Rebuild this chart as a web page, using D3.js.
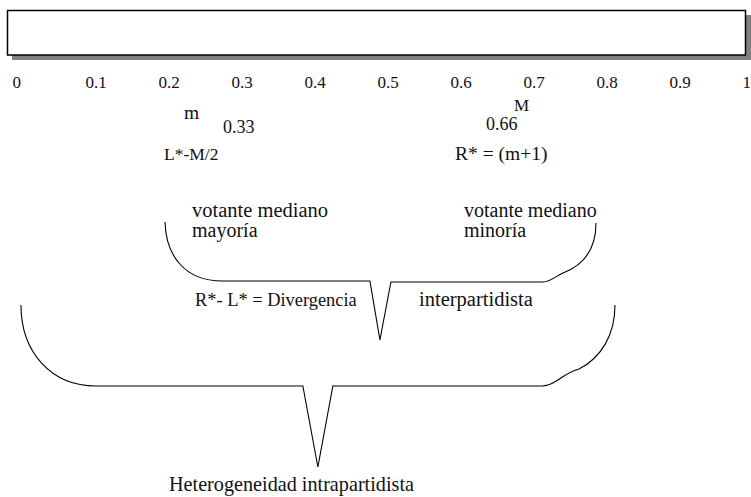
<!DOCTYPE html>
<html>
<head>
<meta charset="utf-8">
<script src="https://cdn.jsdelivr.net/npm/d3@7/dist/d3.min.js"></script>
<style>
  html, body { margin: 0; padding: 0; background: #fff; }
  svg { display: block; }
  text { font-family: "Liberation Serif", "Times New Roman", serif; fill: #111; }
</style>
</head>
<body>
<svg id="chart" width="751" height="497"></svg>
<script>
// ---- data ----
const tickValues = [0, 0.1, 0.2, 0.3, 0.4, 0.5, 0.6, 0.7, 0.8, 0.9, 1];
const tickLabels = ["0", "0.1", "0.2", "0.3", "0.4", "0.5", "0.6", "0.7", "0.8", "0.9", "1"];
const leftMedian = 0.33;   // L*
const rightMedian = 0.66;  // R*
const leftSymbol = "m";
const rightSymbol = "M";
const leftFormula = "L*-M/2";
const rightFormula = "R* = (m+1)";
const upperBraceText = ["votante mediano", "mayoría", "votante mediano", "minoría"];
const divergenceText = ["R*- L* = Divergencia", "interpartidista"];
const heterogeneityText = "Heterogeneidad intrapartidista";

// ---- drawing ----
const svg = d3.select("#chart");
const x = d3.scaleLinear().domain([0, 1]).range([12, 742]);

// framed box with shadow
svg.append("rect").attr("x", 12).attr("y", 15).attr("width", 739).attr("height", 45)
  .attr("fill", "#808080");
svg.append("rect").attr("x", 7.5).attr("y", 10.5).attr("width", 738).attr("height", 44.5)
  .attr("fill", "#fff").attr("stroke", "#000").attr("stroke-width", 1.5);

// axis labels (no axis line in the reference)
const axis = d3.axisBottom(x).tickValues(tickValues)
  .tickFormat((d, i) => tickLabels[i]).tickSize(0).tickPadding(0);
const ag = svg.append("g").attr("transform", "translate(0,88)").call(axis);
ag.attr("font-family", null);
ag.select(".domain").remove();
ag.selectAll("text")
  .attr("text-anchor", "start")
  .attr("y", 0).attr("dy", 0)
  .style("font-family", "'Liberation Serif', serif")
  .style("font-size", "17px")
  .attr("fill", "#111");

// annotations around the medians
function label(t, px, py, size, anchor) {
  svg.append("text").attr("x", px).attr("y", py)
    .attr("text-anchor", anchor || "start")
    .style("font-size", size + "px").text(t);
}
label(leftSymbol, 184, 119, 19.5);
label(d3.format(".2f")(leftMedian), 223, 133, 18);
label(leftFormula, 164, 160, 17.5);
label(rightSymbol, 514, 111, 17);
label(d3.format(".2f")(rightMedian), 486, 130, 18);
label(rightFormula, 455, 160, 19.5);

label(upperBraceText[0], 192, 217, 20.5);
label(upperBraceText[1], 192, 237, 20);
label(upperBraceText[2], 464, 217, 20);
label(upperBraceText[3], 464, 237, 20);
label(divergenceText[0], 195, 306, 18.4);
label(divergenceText[1], 419, 306, 20.5);
label(heterogeneityText, 169, 491, 20.2);

// braces
function brace(p) {
  svg.append("path").attr("d", p.toString())
    .attr("fill", "none").attr("stroke", "#000").attr("stroke-width", 1.1);
}
// upper brace: from about 0.21 to 0.80, tip near 0.505
{
  const l = x(0.2096), r = x(0.8), tip = x(0.504);
  const p = d3.path();
  p.moveTo(l, 222);
  p.bezierCurveTo(l + 1, 256, l + 20, 281, l + 57, 281);
  p.lineTo(tip - 10, 281);
  p.lineTo(tip, 340);
  p.lineTo(tip + 11, 282);
  p.lineTo(r - 53, 282);
  p.bezierCurveTo(r - 46, 282, r - 40, 276, r - 33, 273);
  p.bezierCurveTo(r - 12, 265, r, 248, r, 223);
  brace(p);
}
// lower brace: from about 0.012 to 0.826, tip near 0.419
{
  const l = x(0.0123), r = x(0.826), tip = x(0.419);
  const p = d3.path();
  p.moveTo(l, 305);
  p.bezierCurveTo(l, 352, l + 30, 386, l + 75, 386);
  p.lineTo(tip - 15, 386);
  p.lineTo(tip, 467);
  p.lineTo(tip + 15, 386);
  p.lineTo(r - 73, 386);
  p.bezierCurveTo(r - 66, 386, r - 62, 383, r - 57, 380);
  p.bezierCurveTo(r - 50, 375, r - 44, 371, r - 36, 369);
  p.bezierCurveTo(r - 14, 358, r, 335, r, 305);
  brace(p);
}
</script>
</body>
</html>
